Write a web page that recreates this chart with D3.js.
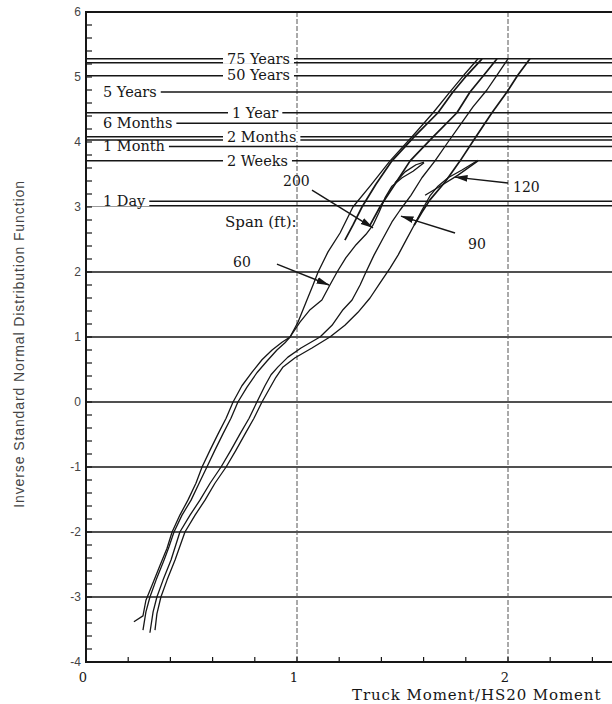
<!DOCTYPE html>
<html>
<head>
<meta charset="utf-8">
<script src="https://cdn.jsdelivr.net/npm/d3@7/dist/d3.min.js"></script>
<style>
  html, body { margin: 0; padding: 0; background: #fff; }
  svg { display: block; }
</style>
</head>
<body>
<svg id="chart" width="612" height="704"></svg>
<script>
// Axis ticks
const xTickValues = [0, 1, 2];
const yTickValues = [-4, -3, -2, -1, 0, 1, 2, 3, 4, 5, 6];

// Return periods and their inverse-normal levels
const periodLabels = ["75 Years", "50 Years", "5 Years", "1 Year", "6 Months", "2 Months", "1 Month", "2 Weeks", "1 Day"];
const periodZ      = [5.28, 5.02, 4.77, 4.45, 4.29, 4.08, 3.93, 3.71, 3.09];
// companion lines drawn just below some return periods
const companionZ   = [5.22, 4.03, 3.02];

// Span labels
const spanNames = ["60", "90", "120", "200"];

// Truck moment / HS20 moment (x) vs inverse standard normal (z), per span
const span60 = [
  [0.227,-3.38],[0.270,-3.29],[0.284,-3.05],[0.313,-2.82],[0.351,-2.51],[0.384,-2.25],
  [0.408,-2.00],[0.445,-1.74],[0.483,-1.51],[0.521,-1.25],[0.550,-1.00],[0.588,-0.74],
  [0.626,-0.49],[0.664,-0.25],[0.697,0.00],[0.739,0.25],[0.787,0.46],[0.834,0.65],
  [0.882,0.80],[0.929,0.92],[0.967,1.00],[1.005,1.23],[1.047,1.57],[1.076,1.80],
  [1.100,2.00],[1.147,2.31],[1.204,2.60],[1.265,3.00],[1.351,3.34],[1.441,3.71],
  [1.545,4.08],[1.645,4.45],[1.725,4.77],[1.791,5.03],[1.858,5.28]
];
const span90 = [
  [0.303,-3.55],[0.318,-3.23],[0.336,-3.00],[0.365,-2.74],[0.403,-2.43],[0.445,-2.00],
  [0.493,-1.74],[0.540,-1.51],[0.588,-1.25],[0.640,-1.00],[0.687,-0.74],[0.730,-0.49],
  [0.773,-0.25],[0.810,0.00],[0.848,0.25],[0.877,0.42],[0.910,0.54],[0.957,0.69],
  [1.019,0.83],[1.109,1.00],[1.166,1.18],[1.218,1.42],[1.261,1.57],[1.299,1.80],
  [1.327,2.00],[1.365,2.26],[1.408,2.52],[1.450,2.77],[1.488,2.95],[1.540,3.18],
  [1.592,3.45],[1.654,3.71],[1.716,4.00],[1.777,4.28],[1.834,4.54],[1.900,4.80],
  [1.948,5.03],[2.000,5.28]
];
const span120 = [
  [0.327,-3.51],[0.336,-3.26],[0.355,-3.00],[0.384,-2.74],[0.422,-2.43],[0.469,-2.00],
  [0.517,-1.74],[0.564,-1.51],[0.611,-1.25],[0.664,-1.00],[0.711,-0.74],[0.754,-0.49],
  [0.796,-0.25],[0.834,0.00],[0.872,0.22],[0.900,0.38],[0.934,0.54],[0.991,0.68],
  [1.071,0.83],[1.156,1.00],[1.227,1.18],[1.289,1.38],[1.346,1.60],[1.393,1.83],
  [1.441,2.06],[1.479,2.26],[1.517,2.49],[1.555,2.72],[1.592,2.95],[1.630,3.17],
  [1.668,3.32],[1.716,3.45],[1.782,3.57],[1.858,3.72]
];
const span200 = [
  [0.270,-3.51],[0.284,-3.23],[0.303,-3.00],[0.332,-2.74],[0.370,-2.43],[0.393,-2.23],
  [0.417,-2.00],[0.455,-1.74],[0.498,-1.51],[0.536,-1.25],[0.573,-1.00],[0.611,-0.74],
  [0.649,-0.49],[0.687,-0.25],[0.720,0.00],[0.763,0.23],[0.810,0.45],[0.858,0.63],
  [0.905,0.80],[0.943,0.91],[0.967,1.00],[1.014,1.23],[1.062,1.42],[1.118,1.57],
  [1.156,1.80],[1.190,2.00],[1.232,2.22],[1.280,2.42],[1.327,2.58],[1.360,2.72],
  [1.389,2.92],[1.417,3.14],[1.450,3.32],[1.498,3.45],[1.550,3.55],[1.602,3.68]
];
// upper-tail branches of the 120 and 200 ft records
const tail120 = [[1.607,3.18],[1.678,3.32],[1.763,3.49],[1.858,3.71]];
const tail200 = [[1.464,3.37],[1.512,3.54],[1.564,3.65],[1.602,3.69]];

// Extrapolations to the 75-year level
const extrapA = [
  [1.227,2.49],[1.265,2.72],[1.308,3.00],[1.374,3.35],[1.450,3.71],[1.555,4.08],
  [1.668,4.45],[1.739,4.77],[1.806,5.03],[1.877,5.28]
];
const extrapB = [
  [1.346,2.72],[1.393,3.00],[1.464,3.35],[1.536,3.71],[1.645,4.08],[1.758,4.45],
  [1.820,4.77],[1.886,5.03],[1.948,5.28]
];
const extrapC = [
  [1.555,2.72],[1.592,2.92],[1.630,3.11],[1.701,3.38],[1.773,3.71],[1.848,4.08],
  [1.924,4.45],[1.995,4.77],[2.047,5.03],[2.104,5.28]
];

// Arrow annotations: [from, to] in chart units
const arrowSpans = ["200", "60", "90", "120"];
const arrowFrom  = [[1.071,3.26],[0.905,2.12],[1.749,2.60],[2.000,3.37]];
const arrowTo    = [[1.360,2.68],[1.152,1.80],[1.493,2.86],[1.749,3.46]];

// ---------------------------------------------------------------
const svg = d3.select("#chart");
const W = 612, H = 704;

const x = d3.scaleLinear().domain([0, 2.5]).range([86, 613.5]);
const y = d3.scaleLinear().domain([-4, 6]).range([662, 12]);

const ink = "#161616";
const serif = "'DejaVu Serif', 'Liberation Serif', serif";
const sans = "'Liberation Sans', Arial, sans-serif";

svg.append("rect").attr("width", W).attr("height", H).attr("fill", "#fff");

const defs = svg.append("defs");
defs.append("marker")
  .attr("id", "head")
  .attr("markerUnits", "userSpaceOnUse")
  .attr("viewBox", "0 0 13 8")
  .attr("markerWidth", 13).attr("markerHeight", 8)
  .attr("refX", 12.5).attr("refY", 4)
  .attr("orient", "auto")
  .append("path")
  .attr("d", "M0,0.6 L13,4 L0,7.4 Z")
  .attr("fill", ink);

// integer grid below the return-period band
const gridZ = yTickValues.filter(v => v > -4 && v < 3);
svg.append("g").selectAll("line").data(gridZ).join("line")
  .attr("x1", x(0)).attr("x2", W)
  .attr("y1", d => y(d)).attr("y2", d => y(d))
  .attr("stroke", ink).attr("stroke-width", 1.7);

// vertical reference lines at the integer ratios
svg.append("g").selectAll("line").data(xTickValues.filter(v => v > 0)).join("line")
  .attr("x1", d => x(d)).attr("x2", d => x(d))
  .attr("y1", y(6)).attr("y2", y(-4))
  .attr("stroke", "#555").attr("stroke-width", 1)
  .attr("stroke-dasharray", "5,2");

// return-period lines
svg.append("g").selectAll("line").data(periodZ.concat(companionZ)).join("line")
  .attr("x1", x(0)).attr("x2", W)
  .attr("y1", d => y(d)).attr("y2", d => y(d))
  .attr("stroke", ink).attr("stroke-width", 1.5);

// curves
const line = d3.line().x(d => x(d[0])).y(d => y(d[1]));
const thin = [span60, span90, span120, span200, tail120, tail200];
const bold = [extrapA, extrapB, extrapC];
svg.append("g").selectAll("path").data(thin).join("path")
  .attr("d", line).attr("fill", "none")
  .attr("stroke", ink).attr("stroke-width", 1.3)
  .attr("stroke-linejoin", "round");
svg.append("g").selectAll("path").data(bold).join("path")
  .attr("d", line).attr("fill", "none")
  .attr("stroke", ink).attr("stroke-width", 1.7)
  .attr("stroke-linejoin", "round");

// return-period labels (left column or middle column), on a white gap
const labelLeft = [false, false, true, false, true, false, true, false, true];
const labelG = svg.append("g");
periodLabels.forEach((txt, i) => {
  const g = labelG.append("g");
  const ty = y(periodZ[i]);
  const tx = labelLeft[i] ? 103 : (txt === "1 Year" ? 232 : 227);
  const bg = g.append("rect").attr("fill", "#fff");
  const t = g.append("text")
    .attr("x", tx).attr("y", ty).attr("dy", "0.33em")
    .attr("font-family", serif).attr("font-size", 14.5)
    .attr("fill", ink).text(txt);
  const w = t.node().getComputedTextLength();
  const x0 = labelLeft[i] ? x(0) + 1 : tx - 4;
  bg.attr("x", x0).attr("y", ty - 5).attr("width", tx + w + 4 - x0).attr("height", 10);
});

// span annotations
svg.append("text").attr("x", 225).attr("y", 227)
  .attr("font-family", serif).attr("font-size", 15).attr("fill", ink)
  .text("Span (ft):");
const spanTextPos = { "200": [283, 186], "60": [233, 267], "90": [468, 249], "120": [513, 192] };
spanNames.forEach(s => {
  svg.append("text").attr("x", spanTextPos[s][0]).attr("y", spanTextPos[s][1])
    .attr("font-family", serif).attr("font-size", 14).attr("fill", ink).text(s);
});
svg.append("g").selectAll("line").data(arrowSpans).join("line")
  .attr("x1", (d, i) => x(arrowFrom[i][0])).attr("y1", (d, i) => y(arrowFrom[i][1]))
  .attr("x2", (d, i) => x(arrowTo[i][0])).attr("y2", (d, i) => y(arrowTo[i][1]))
  .attr("stroke", ink).attr("stroke-width", 1.4)
  .attr("marker-end", "url(#head)");

// frame
svg.append("path")
  .attr("d", `M${W},${y(6)} H${x(0)} V${y(-4)} H${W}`)
  .attr("fill", "none").attr("stroke", ink).attr("stroke-width", 2);

// minor ticks every 0.2
const yMinor = d3.range(-4, 6.001, 0.2);
svg.append("g").selectAll("line").data(yMinor).join("line")
  .attr("x1", x(0)).attr("x2", x(0) + 6)
  .attr("y1", d => y(d)).attr("y2", d => y(d))
  .attr("stroke", ink).attr("stroke-width", 1.2);
const xMinor = d3.range(0, 2.5, 0.2);
svg.append("g").selectAll("line").data(xMinor).join("line")
  .attr("x1", d => x(d)).attr("x2", d => x(d))
  .attr("y1", y(-4)).attr("y2", y(-4) - 5)
  .attr("stroke", ink).attr("stroke-width", 1.2);

// tick labels
svg.append("g").selectAll("text").data(yTickValues).join("text")
  .attr("x", 81).attr("y", d => y(d)).attr("dy", "0.35em")
  .attr("text-anchor", "end")
  .attr("font-family", sans).attr("font-size", 12).attr("fill", "#444")
  .text(d => d);
svg.append("g").selectAll("text").data(xTickValues).join("text")
  .attr("x", d => x(d) - 3).attr("y", 682)
  .attr("text-anchor", "middle")
  .attr("font-family", serif).attr("font-size", 13).attr("fill", ink)
  .text(d => d);

// axis titles
svg.append("text")
  .attr("x", 352).attr("y", 699.5)
  .attr("font-family", serif).attr("font-size", 15).attr("letter-spacing", 0.9)
  .attr("fill", ink)
  .text("Truck Moment/HS20 Moment");
svg.append("text")
  .attr("transform", `translate(24,${344}) rotate(-90)`)
  .attr("text-anchor", "middle")
  .attr("font-family", sans).attr("font-size", 14).attr("letter-spacing", 0.9)
  .attr("fill", "#444")
  .text("Inverse Standard Normal Distribution Function");
</script>
</body>
</html>
